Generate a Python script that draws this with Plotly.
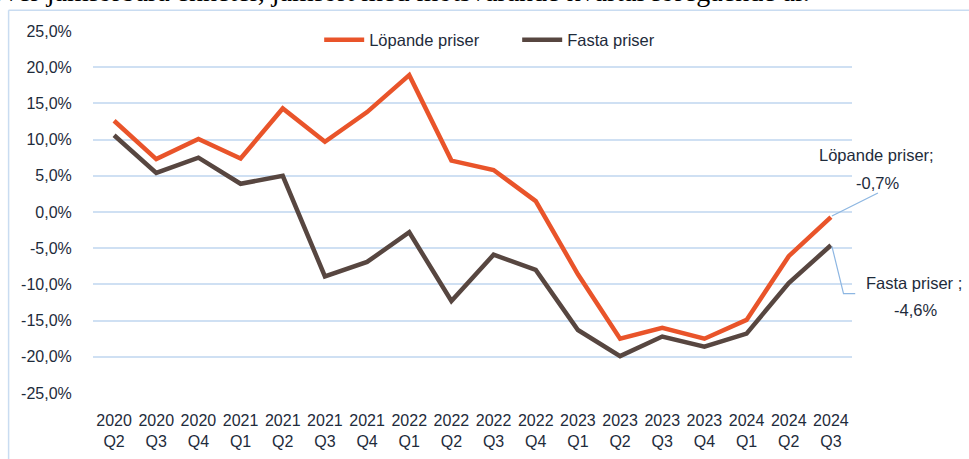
import plotly.graph_objects as go

categories = ["2020<br>Q2", "2020<br>Q3", "2020<br>Q4", "2021<br>Q1", "2021<br>Q2", "2021<br>Q3",
              "2021<br>Q4", "2022<br>Q1", "2022<br>Q2", "2022<br>Q3", "2022<br>Q4", "2023<br>Q1",
              "2023<br>Q2", "2023<br>Q3", "2023<br>Q4", "2024<br>Q1", "2024<br>Q2", "2024<br>Q3"]
lopande = [12.6, 7.3, 10.1, 7.4, 14.3, 9.7, 13.8, 18.9, 7.1, 5.8, 1.5, -8.6,
           -17.5, -16.0, -17.5, -14.9, -6.1, -0.7]
fasta = [10.6, 5.4, 7.5, 3.9, 5.0, -8.9, -6.9, -2.8, -12.3, -5.9, -8.0, -16.3,
         -19.9, -17.2, -18.6, -16.8, -9.8, -4.6]
ytick_vals = [25, 20, 15, 10, 5, 0, -5, -10, -15, -20, -25]
ytick_text = [f"{v:.1f}%".replace(".", ",") for v in ytick_vals]

ORANGE = "#E9542A"
BROWN = "#574640"
TEXT = "#1E2B3B"
GRID = "#CFE0F3"
LEADER = "#8DB6E2"
FONT = "Liberation Sans"

YMIN, YMAX = -25, 25

fig = go.Figure()
fig.add_trace(go.Scatter(x=categories, y=lopande, mode="lines", name="Löpande priser",
                         line=dict(color=ORANGE, width=4.5)))
fig.add_trace(go.Scatter(x=categories, y=fasta, mode="lines", name="Fasta priser",
                         line=dict(color=BROWN, width=4.5)))

fig.update_layout(
    width=969, height=459,
    margin=dict(l=93, r=117, t=31, b=66, pad=0),
    paper_bgcolor="white", plot_bgcolor="white",
    font=dict(family=FONT, size=16, color=TEXT),
    showlegend=True,
    legend=dict(orientation="h", x=0.298, y=0.975, xanchor="left", yanchor="middle",
                bgcolor="rgba(0,0,0,0)", font=dict(size=16.5, color=TEXT),
                entrywidth=143, entrywidthmode="pixels", itemwidth=40),
)
fig.update_xaxes(type="category", range=[-0.5, len(categories) - 0.5], showgrid=False,
                 showline=False, zeroline=False, ticks="outside", ticklen=13,
                 automargin=False,
                 tickcolor="rgba(0,0,0,0)", tickfont=dict(size=16, color=TEXT))
fig.update_yaxes(range=[YMIN, YMAX], tickvals=ytick_vals, ticktext=ytick_text, showgrid=True,
                 gridcolor=GRID, gridwidth=1.5, zeroline=False, showline=False,
                 ticks="outside", ticklen=17, tickcolor="rgba(0,0,0,0)", automargin=False,
                 tickfont=dict(size=16, color=TEXT))

# last point position in paper fractions (derived from data and axis ranges)
n = len(categories)
last_xp = (n - 1 + 0.5) / n
lop_yp = (lopande[-1] - YMIN) / (YMAX - YMIN)
fas_yp = (fasta[-1] - YMIN) / (YMAX - YMIN)

# leader lines
fig.add_shape(type="path", xref="paper", yref="paper", xsizemode="pixel", ysizemode="pixel",
              xanchor=last_xp, yanchor=lop_yp, path="M 1 1 L 47 24",
              line=dict(color=LEADER, width=1.2))
fig.add_shape(type="path", xref="paper", yref="paper", xsizemode="pixel", ysizemode="pixel",
              xanchor=last_xp, yanchor=fas_yp, path="M 1 -1 L 12.6 -48.3 L 24.3 -48.3",
              line=dict(color=LEADER, width=1.2))

lop_txt = f"{lopande[-1]:.1f}%".replace(".", ",")
fas_txt = f"{fasta[-1]:.1f}%".replace(".", ",")
lab = dict(xref="paper", yref="paper", x=last_xp, showarrow=False, xanchor="center",
           yanchor="middle", font=dict(size=16.5, color=TEXT))
fig.add_annotation(y=lop_yp, text="Löpande priser;", xshift=46, yshift=62, **lab)
fig.add_annotation(y=lop_yp, text=lop_txt, xshift=47, yshift=34, **lab)
fig.add_annotation(y=fas_yp, text="Fasta priser ;", xshift=83, yshift=-38, **lab)
fig.add_annotation(y=fas_yp, text=fas_txt, xshift=85, yshift=-65, **lab)

# outer frame (left and top edges visible)
fig.add_shape(type="line", xref="paper", yref="paper", x0=-0.1112, x1=-0.1112, y0=-0.3,
              y1=1.0571, line=dict(color="#C9DCF1", width=1.5))
fig.add_shape(type="line", xref="paper", yref="paper", x0=-0.1112, x1=1.2, y0=1.0571,
              y1=1.0571, line=dict(color="#C9DCF1", width=1.5))

# cropped document text above the chart
fig.add_annotation(xref="paper", yref="paper", x=-0.138, y=1.0595, xanchor="left",
                   yanchor="bottom", showarrow=False,
                   text="över jämförbara enheter, jämfört med motsvarande kvartal föregående år.",
                   font=dict(family="Liberation Serif", size=28, color="black"))

fig.write_html("out.html", config={"displayModeBar": False},
               post_script="document.body.style.margin='0';document.body.style.overflow='hidden';")
